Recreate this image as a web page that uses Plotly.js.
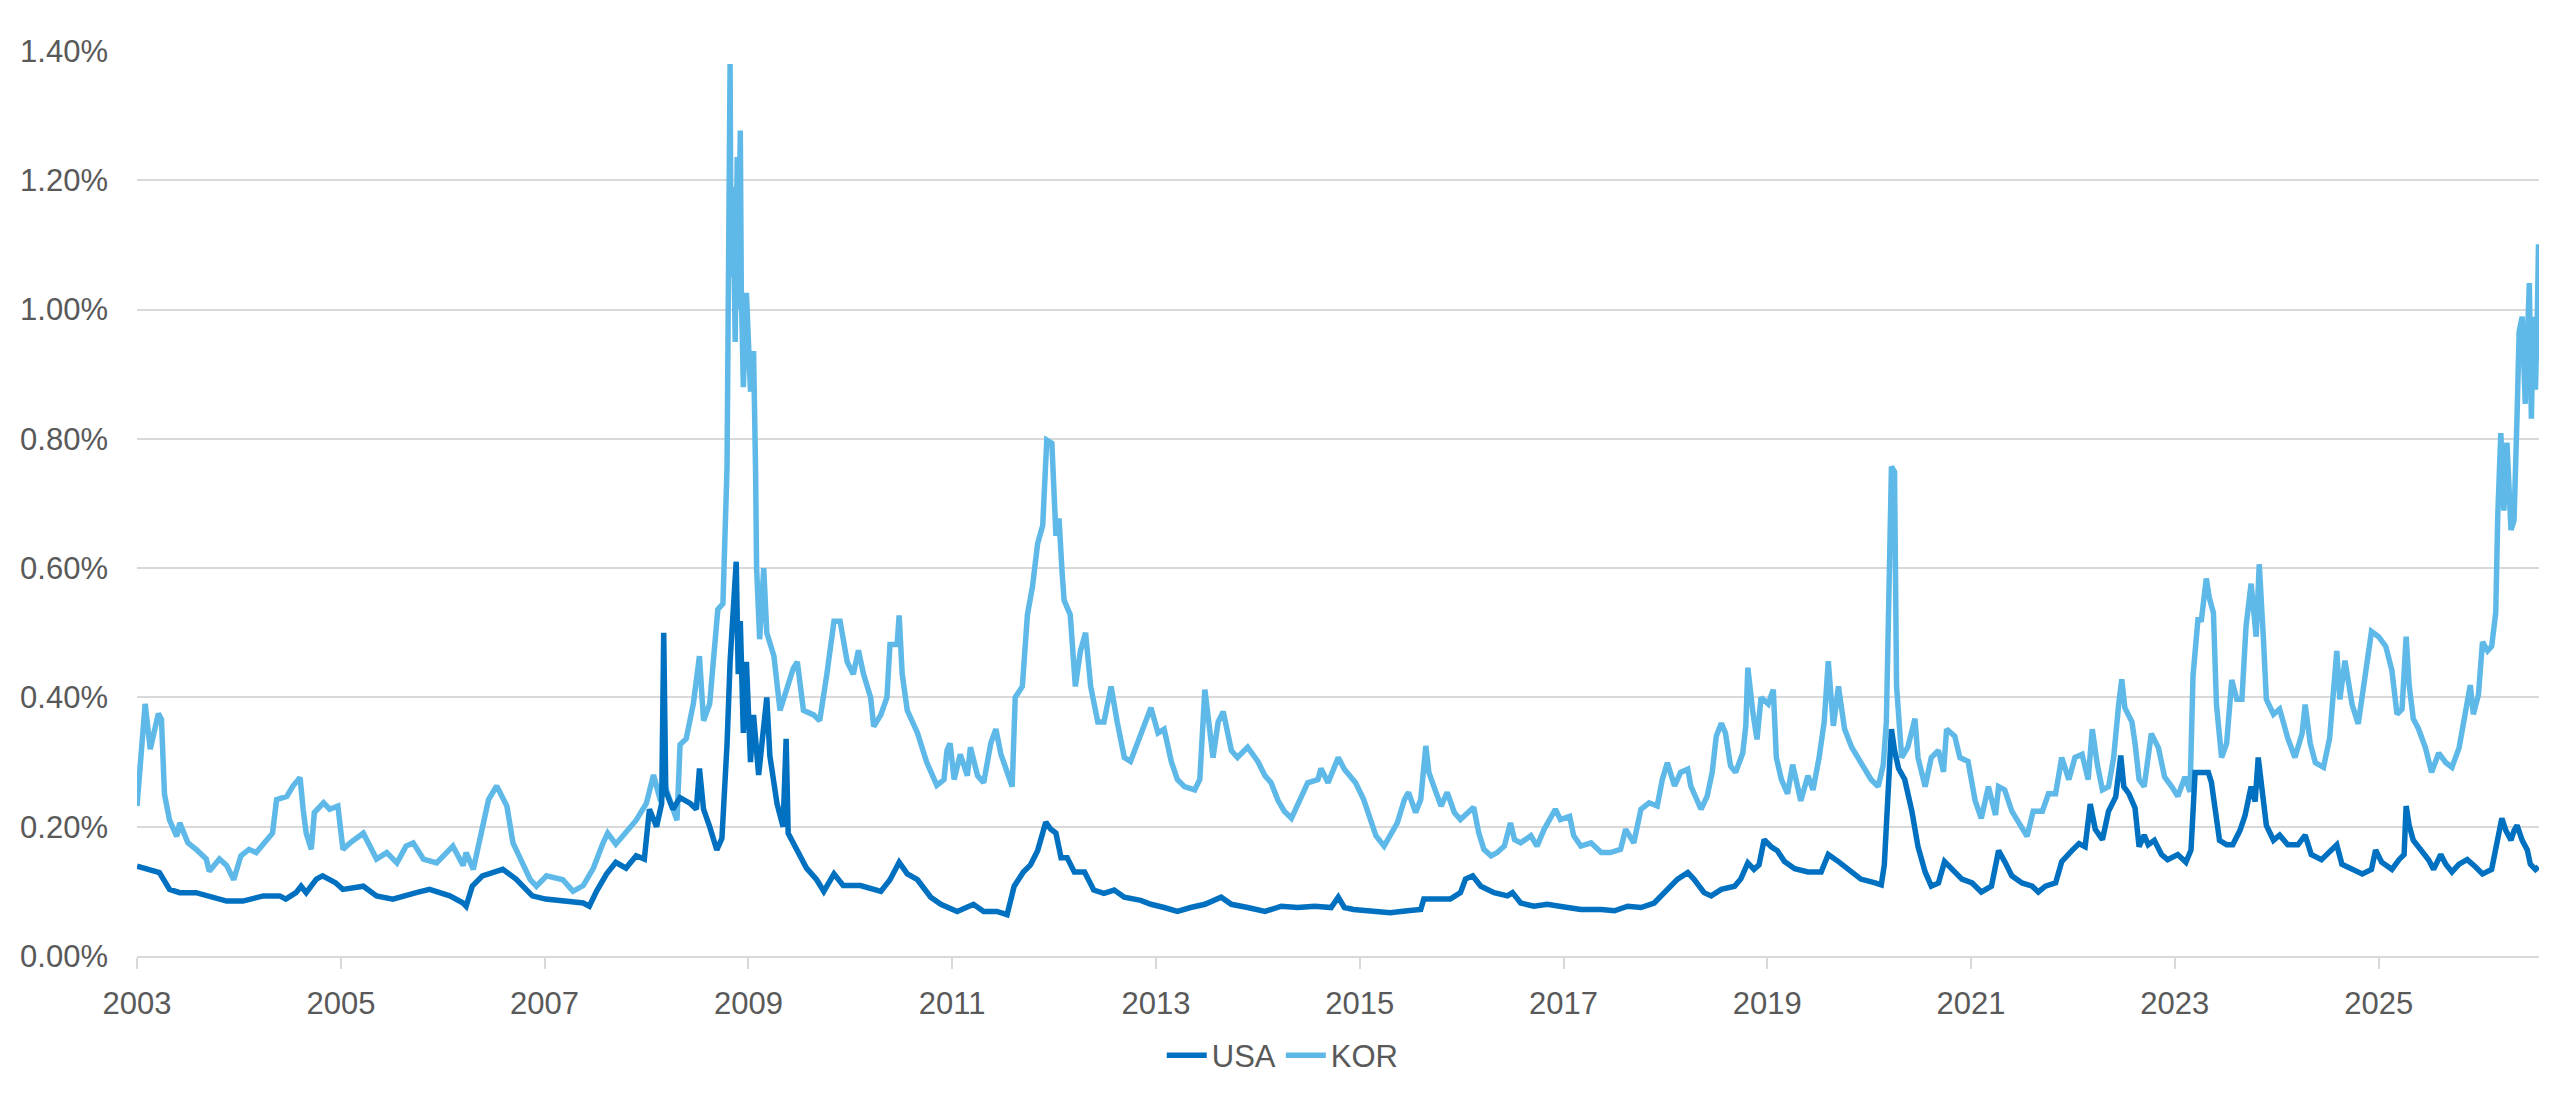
<!DOCTYPE html>
<html>
<head>
<meta charset="utf-8">
<script src="https://cdn.plot.ly/plotly-3.0.1.min.js"></script>
<style>
  html, body { margin: 0; padding: 0; background: #ffffff; }
  #chart { width: 2560px; height: 1102px; }
</style>
</head>
<body>
<div id="chart"></div>
<script>
// values, [decimal year, value in %]
const USA = [
  [2003.00,0.139],[2003.12,0.134],[2003.22,0.129],[2003.32,0.103],[2003.42,0.098],[2003.58,0.098],
  [2003.71,0.093],[2003.88,0.085],[2004.04,0.085],[2004.24,0.093],[2004.40,0.093],[2004.46,0.088],
  [2004.56,0.098],[2004.61,0.108],[2004.66,0.098],[2004.76,0.119],[2004.82,0.124],[2004.95,0.113],
  [2005.02,0.103],[2005.22,0.108],[2005.35,0.093],[2005.51,0.088],[2005.74,0.098],[2005.87,0.103],
  [2006.07,0.093],[2006.20,0.082],[2006.23,0.077],[2006.29,0.108],[2006.39,0.124],[2006.49,0.129],
  [2006.59,0.134],[2006.72,0.119],[2006.82,0.103],[2006.88,0.093],[2007.01,0.088],[2007.18,0.086],
  [2007.38,0.082],[2007.44,0.077],[2007.51,0.100],[2007.61,0.127],[2007.70,0.145],[2007.80,0.136],
  [2007.90,0.155],[2007.98,0.150],[2008.03,0.227],[2008.10,0.200],[2008.15,0.236],[2008.17,0.500],
  [2008.19,0.255],[2008.26,0.227],[2008.33,0.245],[2008.43,0.236],[2008.49,0.227],[2008.52,0.290],
  [2008.56,0.227],[2008.62,0.200],[2008.69,0.164],[2008.74,0.182],[2008.79,0.327],[2008.82,0.455],
  [2008.88,0.610],[2008.90,0.436],[2008.92,0.518],[2008.95,0.345],[2008.98,0.455],[2009.02,0.300],
  [2009.05,0.373],[2009.10,0.280],[2009.13,0.327],[2009.18,0.400],[2009.21,0.310],[2009.28,0.236],
  [2009.34,0.200],[2009.37,0.336],[2009.39,0.190],[2009.48,0.164],[2009.57,0.136],[2009.67,0.118],
  [2009.74,0.100],[2009.84,0.127],[2009.93,0.109],[2010.10,0.109],[2010.30,0.100],[2010.39,0.118],
  [2010.48,0.145],[2010.56,0.127],[2010.66,0.118],[2010.79,0.091],[2010.89,0.080],[2011.05,0.069],
  [2011.21,0.080],[2011.31,0.069],[2011.44,0.069],[2011.54,0.064],[2011.61,0.108],[2011.70,0.130],
  [2011.77,0.141],[2011.84,0.163],[2011.92,0.207],[2011.97,0.196],[2012.02,0.190],[2012.07,0.152],
  [2012.13,0.152],[2012.20,0.130],[2012.30,0.130],[2012.39,0.102],[2012.49,0.097],[2012.59,0.102],
  [2012.69,0.091],[2012.85,0.086],[2012.95,0.080],[2013.08,0.075],[2013.21,0.069],[2013.34,0.075],
  [2013.48,0.080],[2013.64,0.091],[2013.74,0.080],[2013.90,0.075],[2014.07,0.069],[2014.23,0.077],
  [2014.39,0.075],[2014.56,0.077],[2014.72,0.075],[2014.79,0.091],[2014.85,0.075],[2014.94,0.072],
  [2015.14,0.070],[2015.30,0.067],[2015.47,0.070],[2015.60,0.072],[2015.63,0.088],[2015.76,0.088],
  [2015.89,0.088],[2015.99,0.098],[2016.04,0.119],[2016.11,0.124],[2016.19,0.108],[2016.32,0.098],
  [2016.45,0.093],[2016.50,0.098],[2016.58,0.082],[2016.71,0.077],[2016.84,0.080],[2017.04,0.075],
  [2017.17,0.072],[2017.37,0.072],[2017.50,0.070],[2017.63,0.077],[2017.76,0.075],[2017.89,0.082],
  [2018.02,0.103],[2018.12,0.119],[2018.22,0.129],[2018.28,0.119],[2018.38,0.098],[2018.45,0.093],
  [2018.55,0.103],[2018.68,0.108],[2018.74,0.119],[2018.81,0.144],[2018.87,0.134],[2018.92,0.141],
  [2018.97,0.180],[2019.04,0.169],[2019.10,0.163],[2019.17,0.146],[2019.27,0.135],[2019.40,0.130],
  [2019.53,0.130],[2019.60,0.157],[2019.70,0.146],[2019.79,0.135],[2019.92,0.119],[2020.06,0.113],
  [2020.12,0.110],[2020.15,0.141],[2020.19,0.251],[2020.22,0.351],[2020.25,0.318],[2020.29,0.290],
  [2020.35,0.273],[2020.42,0.224],[2020.48,0.169],[2020.55,0.130],[2020.61,0.108],[2020.68,0.113],
  [2020.74,0.146],[2020.81,0.135],[2020.91,0.119],[2021.01,0.113],[2021.10,0.099],[2021.20,0.108],
  [2021.27,0.163],[2021.33,0.146],[2021.40,0.124],[2021.50,0.113],[2021.60,0.108],[2021.66,0.099],
  [2021.73,0.108],[2021.83,0.113],[2021.89,0.146],[2021.99,0.163],[2022.06,0.174],[2022.12,0.169],
  [2022.17,0.235],[2022.22,0.196],[2022.29,0.180],[2022.35,0.224],[2022.42,0.246],[2022.47,0.310],
  [2022.50,0.262],[2022.55,0.251],[2022.61,0.229],[2022.65,0.169],[2022.70,0.187],[2022.74,0.172],
  [2022.80,0.179],[2022.87,0.157],[2022.93,0.149],[2023.03,0.157],[2023.11,0.145],[2023.16,0.164],
  [2023.20,0.284],[2023.26,0.284],[2023.33,0.284],[2023.36,0.269],[2023.39,0.232],[2023.44,0.179],
  [2023.51,0.172],[2023.57,0.172],[2023.64,0.194],[2023.69,0.217],[2023.75,0.262],[2023.79,0.239],
  [2023.82,0.307],[2023.85,0.269],[2023.90,0.202],[2023.97,0.179],[2024.03,0.187],[2024.11,0.172],
  [2024.21,0.172],[2024.28,0.187],[2024.34,0.157],[2024.44,0.149],[2024.54,0.164],[2024.59,0.172],
  [2024.64,0.142],[2024.74,0.134],[2024.84,0.127],[2024.93,0.134],[2024.97,0.164],[2025.03,0.145],
  [2025.13,0.134],[2025.20,0.149],[2025.25,0.157],[2025.27,0.232],[2025.30,0.202],[2025.34,0.179],
  [2025.41,0.164],[2025.49,0.149],[2025.54,0.134],[2025.61,0.157],[2025.66,0.142],[2025.72,0.130],
  [2025.79,0.142],[2025.87,0.149],[2025.95,0.138],[2026.02,0.127],[2026.11,0.134],[2026.16,0.179],
  [2026.21,0.213],[2026.25,0.194],[2026.30,0.179],[2026.33,0.194],[2026.36,0.202],[2026.41,0.179],
  [2026.46,0.164],[2026.49,0.142],[2026.54,0.134],[2026.57,0.138]
];

const KOR = [
  [2003.00,0.232],[2003.04,0.325],[2003.08,0.390],[2003.13,0.320],[2003.21,0.375],[2003.24,0.366],
  [2003.27,0.250],[2003.32,0.210],[2003.39,0.185],[2003.42,0.206],[2003.50,0.175],[2003.58,0.165],
  [2003.68,0.150],[2003.71,0.131],[2003.81,0.150],[2003.88,0.140],[2003.95,0.118],[2004.02,0.155],
  [2004.10,0.165],[2004.17,0.160],[2004.27,0.180],[2004.33,0.190],[2004.37,0.242],[2004.47,0.247],
  [2004.53,0.263],[2004.60,0.276],[2004.63,0.227],[2004.66,0.190],[2004.71,0.165],[2004.74,0.222],
  [2004.83,0.237],[2004.89,0.227],[2004.97,0.232],[2005.02,0.165],[2005.09,0.175],[2005.22,0.190],
  [2005.35,0.150],[2005.45,0.160],[2005.55,0.144],[2005.64,0.170],[2005.71,0.175],[2005.81,0.150],
  [2005.94,0.144],[2006.10,0.170],[2006.20,0.140],[2006.23,0.160],[2006.30,0.134],[2006.36,0.175],
  [2006.40,0.210],[2006.45,0.242],[2006.53,0.263],[2006.63,0.232],[2006.69,0.175],[2006.76,0.150],
  [2006.86,0.118],[2006.92,0.108],[2007.02,0.124],[2007.18,0.118],[2007.28,0.100],[2007.38,0.109],
  [2007.48,0.136],[2007.57,0.173],[2007.62,0.190],[2007.70,0.173],[2007.80,0.190],[2007.90,0.210],
  [2008.00,0.236],[2008.07,0.280],[2008.13,0.245],[2008.20,0.255],[2008.30,0.210],[2008.33,0.327],
  [2008.39,0.336],[2008.46,0.390],[2008.52,0.464],[2008.56,0.364],[2008.62,0.390],[2008.66,0.455],
  [2008.70,0.536],[2008.75,0.545],[2008.79,0.755],[2008.82,1.380],[2008.83,1.050],[2008.85,1.190],
  [2008.87,0.950],[2008.89,1.236],[2008.90,1.000],[2008.92,1.277],[2008.93,1.030],[2008.95,0.880],
  [2008.98,1.026],[2009.02,0.873],[2009.05,0.936],[2009.07,0.750],[2009.08,0.600],[2009.11,0.490],
  [2009.15,0.600],[2009.18,0.500],[2009.25,0.464],[2009.31,0.380],[2009.38,0.418],[2009.44,0.445],
  [2009.48,0.455],[2009.54,0.380],[2009.64,0.373],[2009.70,0.364],[2009.77,0.436],[2009.84,0.518],
  [2009.90,0.518],[2009.97,0.455],[2010.03,0.436],[2010.08,0.473],[2010.13,0.436],[2010.20,0.400],
  [2010.23,0.355],[2010.30,0.373],[2010.36,0.400],[2010.39,0.482],[2010.46,0.482],[2010.48,0.527],
  [2010.51,0.436],[2010.56,0.380],[2010.66,0.345],[2010.75,0.300],[2010.85,0.264],[2010.92,0.273],
  [2010.95,0.318],[2010.98,0.329],[2011.02,0.273],[2011.08,0.312],[2011.15,0.279],[2011.18,0.323],
  [2011.25,0.279],[2011.31,0.268],[2011.38,0.329],[2011.43,0.351],[2011.48,0.312],[2011.54,0.285],
  [2011.59,0.262],[2011.62,0.400],[2011.69,0.417],[2011.74,0.528],[2011.79,0.572],[2011.84,0.638],
  [2011.89,0.666],[2011.93,0.798],[2011.98,0.793],[2012.02,0.650],[2012.05,0.677],[2012.08,0.594],
  [2012.10,0.550],[2012.16,0.528],[2012.21,0.417],[2012.26,0.472],[2012.31,0.500],[2012.36,0.417],
  [2012.43,0.362],[2012.49,0.362],[2012.56,0.417],[2012.62,0.362],[2012.69,0.307],[2012.75,0.301],
  [2012.82,0.329],[2012.89,0.362],[2012.95,0.384],[2013.02,0.345],[2013.08,0.351],[2013.15,0.301],
  [2013.21,0.273],[2013.28,0.262],[2013.38,0.257],[2013.43,0.273],[2013.48,0.412],[2013.51,0.373],
  [2013.56,0.307],[2013.61,0.362],[2013.66,0.378],[2013.74,0.318],[2013.80,0.307],[2013.90,0.323],
  [2014.00,0.301],[2014.07,0.279],[2014.13,0.268],[2014.20,0.240],[2014.26,0.224],[2014.33,0.213],
  [2014.43,0.246],[2014.49,0.268],[2014.59,0.273],[2014.62,0.290],[2014.69,0.268],[2014.79,0.307],
  [2014.85,0.289],[2014.96,0.268],[2015.04,0.242],[2015.11,0.206],[2015.16,0.186],[2015.24,0.170],
  [2015.32,0.190],[2015.37,0.206],[2015.44,0.242],[2015.48,0.253],[2015.55,0.222],[2015.60,0.242],
  [2015.65,0.325],[2015.68,0.284],[2015.75,0.253],[2015.80,0.232],[2015.86,0.253],[2015.93,0.222],
  [2015.99,0.211],[2016.06,0.222],[2016.12,0.230],[2016.17,0.190],[2016.22,0.165],[2016.29,0.155],
  [2016.35,0.160],[2016.42,0.170],[2016.48,0.206],[2016.52,0.180],[2016.58,0.175],[2016.68,0.186],
  [2016.74,0.170],[2016.81,0.196],[2016.88,0.216],[2016.92,0.227],[2016.97,0.211],[2017.06,0.216],
  [2017.10,0.186],[2017.17,0.170],[2017.27,0.175],[2017.37,0.160],[2017.46,0.160],[2017.56,0.165],
  [2017.61,0.196],[2017.69,0.175],[2017.76,0.227],[2017.84,0.237],[2017.92,0.232],[2017.97,0.273],
  [2018.02,0.299],[2018.09,0.263],[2018.15,0.284],[2018.22,0.289],[2018.25,0.263],[2018.28,0.253],
  [2018.35,0.227],[2018.41,0.247],[2018.46,0.284],[2018.50,0.340],[2018.55,0.360],[2018.59,0.345],
  [2018.64,0.294],[2018.69,0.284],[2018.76,0.314],[2018.79,0.356],[2018.81,0.446],[2018.86,0.376],
  [2018.90,0.335],[2018.94,0.400],[2019.01,0.390],[2019.06,0.412],[2019.09,0.307],[2019.14,0.273],
  [2019.20,0.251],[2019.25,0.296],[2019.30,0.262],[2019.33,0.240],[2019.40,0.279],[2019.45,0.257],
  [2019.51,0.307],[2019.56,0.362],[2019.60,0.456],[2019.65,0.356],[2019.70,0.417],[2019.76,0.351],
  [2019.83,0.323],[2019.89,0.307],[2019.96,0.285],[2020.02,0.273],[2020.09,0.262],[2020.14,0.296],
  [2020.17,0.362],[2020.20,0.583],[2020.22,0.757],[2020.25,0.749],[2020.27,0.417],[2020.32,0.307],
  [2020.38,0.323],[2020.45,0.367],[2020.48,0.307],[2020.55,0.262],[2020.61,0.307],[2020.68,0.318],
  [2020.73,0.285],[2020.76,0.351],[2020.84,0.340],[2020.89,0.307],[2020.97,0.301],[2021.04,0.240],
  [2021.10,0.213],[2021.17,0.262],[2021.24,0.218],[2021.27,0.262],[2021.33,0.257],[2021.40,0.224],
  [2021.47,0.207],[2021.55,0.185],[2021.61,0.224],[2021.70,0.224],[2021.76,0.251],[2021.83,0.251],
  [2021.89,0.307],[2021.96,0.273],[2022.02,0.307],[2022.09,0.312],[2022.15,0.273],[2022.19,0.351],
  [2022.24,0.296],[2022.29,0.257],[2022.35,0.262],[2022.40,0.307],[2022.45,0.390],[2022.48,0.428],
  [2022.51,0.384],[2022.58,0.362],[2022.61,0.329],[2022.65,0.273],[2022.70,0.262],[2022.77,0.344],
  [2022.84,0.322],[2022.90,0.277],[2022.97,0.262],[2023.03,0.247],[2023.10,0.277],[2023.15,0.254],
  [2023.18,0.434],[2023.23,0.524],[2023.26,0.517],[2023.31,0.584],[2023.34,0.554],[2023.38,0.531],
  [2023.41,0.389],[2023.46,0.307],[2023.51,0.329],[2023.56,0.427],[2023.61,0.397],[2023.66,0.397],
  [2023.70,0.509],[2023.75,0.576],[2023.80,0.494],[2023.83,0.606],[2023.87,0.494],[2023.90,0.397],
  [2023.97,0.374],[2024.03,0.382],[2024.11,0.337],[2024.18,0.307],[2024.25,0.344],[2024.28,0.389],
  [2024.33,0.329],[2024.38,0.299],[2024.46,0.292],[2024.52,0.337],[2024.59,0.472],[2024.62,0.397],
  [2024.67,0.457],[2024.74,0.389],[2024.80,0.359],[2024.85,0.412],[2024.93,0.502],[2025.00,0.494],
  [2025.07,0.479],[2025.13,0.442],[2025.18,0.374],[2025.23,0.382],[2025.27,0.494],[2025.30,0.419],
  [2025.34,0.367],[2025.39,0.352],[2025.46,0.322],[2025.52,0.284],[2025.59,0.314],[2025.66,0.299],
  [2025.72,0.292],[2025.79,0.322],[2025.85,0.374],[2025.90,0.419],[2025.93,0.374],[2025.98,0.404],
  [2026.02,0.486],[2026.07,0.472],[2026.11,0.479],[2026.15,0.531],[2026.17,0.681],[2026.20,0.809],
  [2026.23,0.689],[2026.26,0.794],[2026.30,0.659],[2026.33,0.674],[2026.36,0.839],[2026.38,0.966],
  [2026.41,0.989],[2026.44,0.854],[2026.48,1.041],[2026.50,0.831],[2026.52,0.989],[2026.54,0.876],
  [2026.56,1.004],[2026.57,1.101]
];

const SERIES_NAMES  = ['USA', 'KOR'];
const SERIES_COLORS = ['#0070C0', '#5EB9E8'];

// decimal year -> ISO date string
function yearToDate(t) {
  const y = Math.floor(t);
  const a = Date.UTC(y, 0, 1), b = Date.UTC(y + 1, 0, 1);
  return new Date(a + (t - y) * (b - a)).toISOString().slice(0, 19);
}

const AXIS_FONT = { family: "'Liberation Sans', Arial, sans-serif", size: 31, color: '#595959' };

function makeTrace(rows, i) {
  return {
    type: 'scatter', mode: 'lines',
    name: SERIES_NAMES[i],
    x: rows.map(r => yearToDate(r[0])),
    y: rows.map(r => r[1]),
    line: { color: SERIES_COLORS[i], width: 5.5, shape: 'linear' },
    hovertemplate: '%{x|%Y-%m-%d}<br>%{y:.2f}%<extra>' + SERIES_NAMES[i] + '</extra>',
  };
}

// KOR first so USA is drawn on top; legend reversed to keep USA first
const traces = [makeTrace(KOR, 1), makeTrace(USA, 0)];

const layout = {
  width: 2560, height: 1102,
  paper_bgcolor: '#ffffff', plot_bgcolor: '#ffffff',
  margin: { l: 137, r: 21, t: 51, b: 146 },
  font: AXIS_FONT,
  showlegend: true,
  legend: {
    orientation: 'h', traceorder: 'reversed',
    x: 0.477, xanchor: 'center', y: -0.11, yanchor: 'middle',
    font: AXIS_FONT, itemwidth: 40,
  },
  xaxis: {
    type: 'date',
    range: [yearToDate(2003.0), yearToDate(2026.575)],
    tickmode: 'linear', tick0: '2003-01-01', dtick: 'M24', tickformat: '%Y',
    ticks: 'outside', ticklen: 11, tickwidth: 2, tickcolor: '#d9d9d9',
    showline: true, linecolor: '#d9d9d9', linewidth: 2,
    showgrid: false, zeroline: false,
    tickfont: AXIS_FONT, ticklabelstandoff: 8,
  },
  yaxis: {
    range: [0, 1.4], dtick: 0.2, tick0: 0,
    tickformat: '.2f', ticksuffix: '%',
    showgrid: true, gridcolor: '#d9d9d9', gridwidth: 2,
    zeroline: false, showline: false, ticks: '',
    tickfont: AXIS_FONT, ticklabelstandoff: 28,
  },
};

Plotly.newPlot('chart', traces, layout, { displayModeBar: false, staticPlot: true });
</script>
</body>
</html>
